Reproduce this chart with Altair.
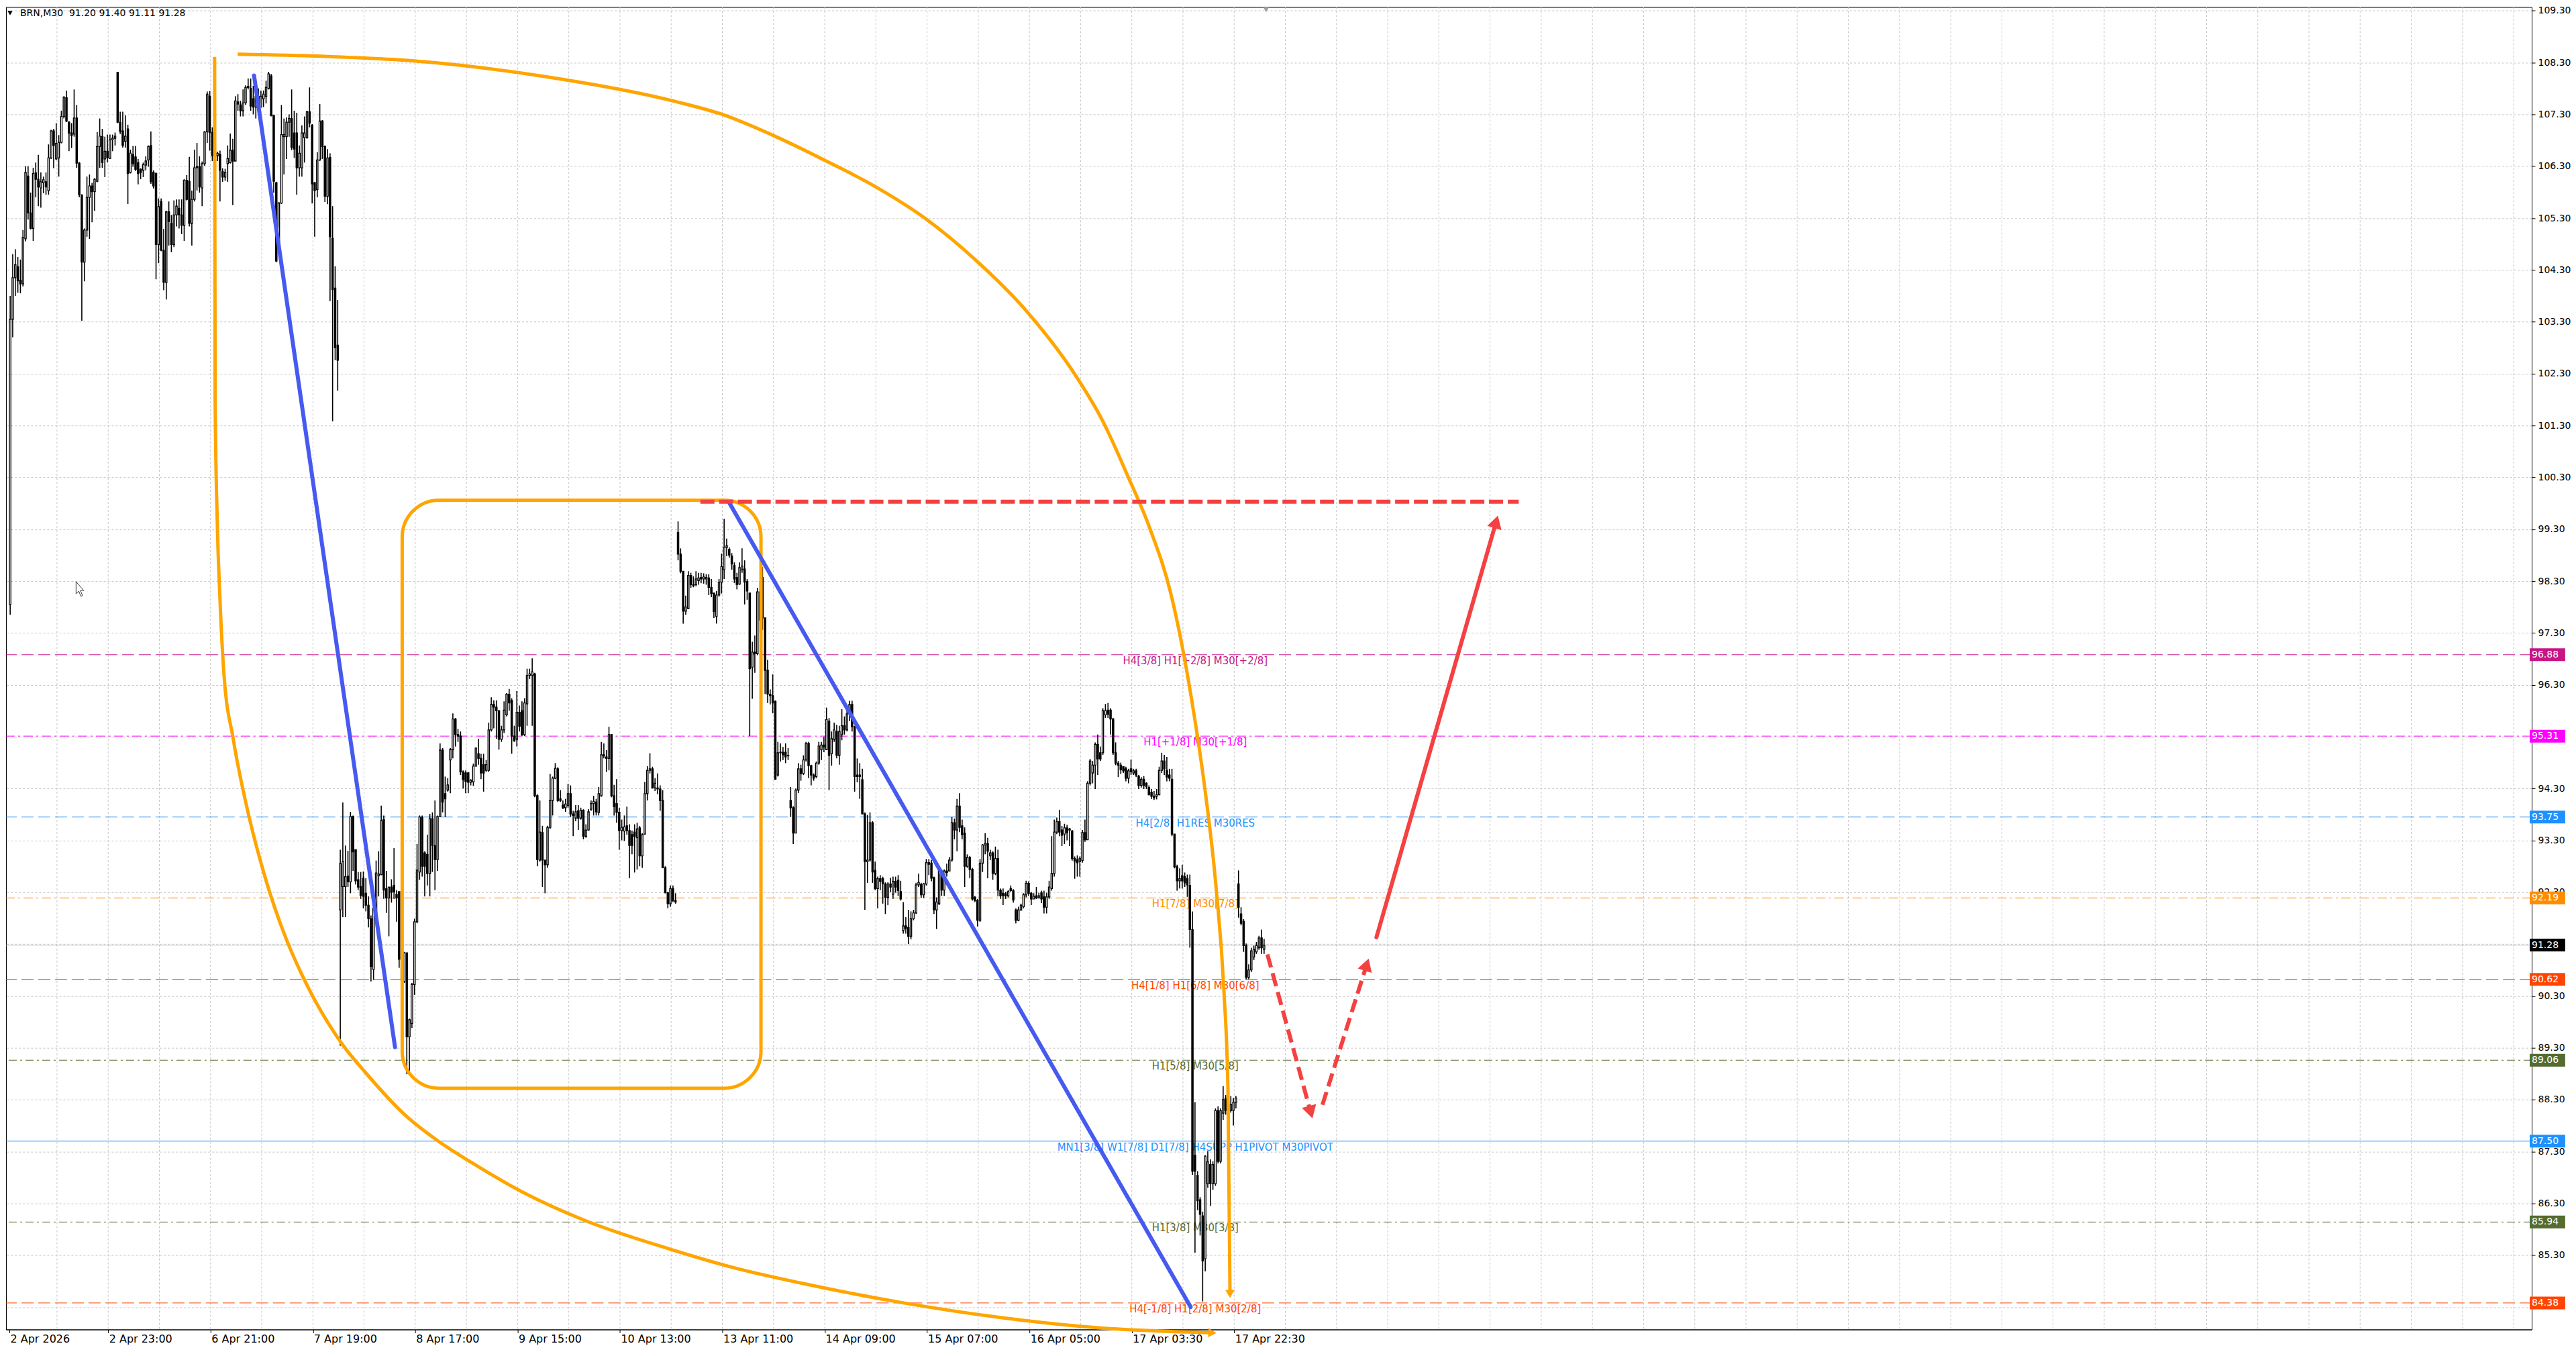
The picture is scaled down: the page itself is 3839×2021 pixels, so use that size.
import math

import altair as alt
import pandas as pd

# -----------------------------------------------------------------------------
# VALUES
# -----------------------------------------------------------------------------

TITLE = "BRN,M30\u00a0 91.20 91.40 91.11 91.28"

X_LABELS = ["2 Apr 2026", "2 Apr 23:00", "6 Apr 21:00", "7 Apr 19:00",
            "8 Apr 17:00", "9 Apr 15:00", "10 Apr 13:00", "13 Apr 11:00",
            "14 Apr 09:00", "15 Apr 07:00", "16 Apr 05:00", "17 Apr 03:30",
            "17 Apr 22:30"]

Y_TICKS = [84.3, 85.3, 86.3, 87.3, 88.3, 89.3, 90.3, 91.3, 92.3, 93.3, 94.3,
           95.3, 96.3, 97.3, 98.3, 99.3, 100.3, 101.3, 102.3, 103.3, 104.3,
           105.3, 106.3, 107.3, 108.3, 109.3]
# price labels that sit fully under a coloured price tag in the screenshot
Y_TICKS_UNDER_TAGS = [84.3, 91.3, 95.3]

# M30 candles (open, high, low, close), in five runs split at the price gaps
SEG_A = [
    (97.85, 103.80, 97.65, 103.35), (103.35, 104.60, 103.00, 104.15),
    (104.15, 104.70, 103.80, 104.40), (104.36, 104.55, 103.86, 104.09),
    (104.10, 104.50, 103.85, 104.03), (104.03, 105.07, 103.98, 104.93),
    (104.90, 106.30, 104.85, 106.18), (106.11, 106.30, 105.27, 105.40),
    (105.40, 105.79, 105.08, 105.10), (105.10, 106.27, 104.86, 106.16),
    (106.17, 106.37, 105.70, 106.05), (106.05, 106.52, 105.53, 105.90),
    (105.88, 106.18, 105.50, 106.00), (105.98, 106.10, 105.78, 106.04),
    (106.00, 106.18, 105.75, 105.90), (105.83, 106.72, 105.75, 106.46),
    (106.46, 107.00, 106.44, 106.98), (106.98, 107.02, 106.26, 106.70),
    (106.44, 107.13, 106.42, 106.74), (106.46, 106.90, 106.10, 106.76),
    (106.76, 107.37, 106.74, 107.26), (107.26, 107.65, 107.22, 107.63),
    (107.62, 107.76, 107.15, 107.17), (107.15, 107.17, 106.59, 106.94),
    (106.94, 107.13, 106.65, 106.89), (106.92, 107.78, 106.87, 107.23),
    (107.23, 107.48, 106.27, 106.36), (106.36, 106.38, 105.70, 105.75),
    (105.74, 105.76, 103.32, 104.45), (104.45, 105.10, 104.08, 105.07),
    (105.07, 106.10, 104.94, 105.70), (105.70, 106.14, 104.90, 105.92),
    (105.92, 105.98, 105.22, 105.81), (105.81, 106.07, 105.44, 106.05),
    (106.01, 106.96, 105.99, 106.68), (106.68, 107.22, 106.27, 106.88),
    (106.87, 107.02, 106.27, 106.37), (106.44, 106.87, 106.09, 106.59),
    (106.59, 106.91, 106.37, 106.46), (106.45, 106.91, 106.44, 106.81),
    (106.81, 106.91, 106.59, 106.84), (106.84, 106.95, 106.70, 106.88),
]

SEG_B = [
    (108.11, 108.12, 107.13, 107.15), (107.15, 107.35, 106.92, 106.97),
    (106.98, 107.35, 106.66, 106.70), (106.78, 107.28, 106.66, 106.88),
    (107.02, 107.10, 105.57, 106.16), (106.18, 106.62, 106.16, 106.55),
    (106.52, 106.69, 106.29, 106.35), (106.48, 106.69, 106.21, 106.24),
    (106.37, 106.44, 105.95, 106.16), (106.24, 106.26, 106.05, 106.18),
    (106.22, 106.37, 106.09, 106.33), (106.32, 106.49, 106.22, 106.40),
    (106.42, 106.70, 106.29, 106.68), (106.70, 106.97, 105.96, 106.00),
    (106.18, 106.22, 105.87, 105.92), (106.16, 106.18, 104.12, 104.79),
    (104.79, 105.68, 104.43, 105.52), (105.62, 105.68, 104.66, 104.68),
    (104.68, 105.09, 103.91, 104.06), (104.06, 105.44, 103.73, 105.42),
    (105.42, 105.62, 104.77, 105.23), (105.20, 105.36, 104.64, 104.79),
    (104.79, 105.64, 104.74, 105.36), (105.36, 105.66, 105.14, 105.53),
    (105.49, 105.66, 105.10, 105.36), (105.36, 105.66, 104.99, 105.16),
    (105.16, 106.05, 104.86, 106.03), (106.03, 106.13, 105.64, 105.66),
    (106.01, 106.48, 105.14, 105.20), (105.20, 105.83, 104.77, 105.66),
    (105.66, 106.62, 105.62, 106.27), (106.27, 106.75, 105.83, 106.29),
    (106.29, 106.49, 105.79, 105.90), (105.88, 106.39, 105.53, 106.35),
    (106.35, 106.98, 106.31, 106.96), (106.96, 107.74, 106.75, 107.69),
    (107.65, 107.75, 106.60, 106.95), (106.95, 107.05, 106.40, 106.50),
    (106.89, 106.89, 106.20, 106.22), (106.50, 106.58, 106.40, 106.55),
    (106.53, 106.60, 105.62, 106.22), (106.20, 106.26, 106.00, 106.09),
    (106.09, 106.25, 106.02, 106.18), (106.35, 106.70, 106.00, 106.45),
    (106.37, 106.93, 106.35, 106.61), (106.61, 106.83, 105.55, 106.40),
    (106.40, 107.65, 106.40, 107.56), (107.54, 107.69, 107.37, 107.50),
    (107.48, 107.56, 107.26, 107.37), (107.37, 107.78, 107.26, 107.52),
    (107.52, 107.86, 107.48, 107.82), (107.82, 107.99, 107.78, 107.84),
    (107.80, 107.99, 107.37, 107.46), (107.60, 107.85, 107.30, 107.44),
    (107.44, 107.93, 107.22, 107.65), (107.65, 107.80, 107.40, 107.50),
    (107.44, 107.76, 107.44, 107.65), (107.60, 107.76, 107.44, 107.69),
    (107.64, 107.95, 107.51, 107.82), (107.80, 108.12, 107.78, 108.08),
    (108.04, 108.08, 107.26, 107.28), (107.28, 107.28, 105.79, 106.01),
    (105.98, 106.00, 104.45, 104.47), (104.77, 105.61, 104.75, 105.59),
    (105.59, 107.48, 105.57, 106.91), (106.87, 107.22, 106.14, 106.91),
    (106.87, 107.24, 106.44, 107.15), (107.15, 107.30, 106.87, 107.22),
    (107.22, 107.78, 106.61, 106.66), (106.94, 107.37, 106.46, 106.63),
    (106.94, 107.33, 105.75, 106.27), (106.27, 106.70, 106.10, 106.55),
    (106.27, 107.09, 106.10, 106.94), (106.85, 107.26, 106.37, 106.94),
    (106.85, 107.37, 106.83, 107.35), (107.35, 107.82, 107.05, 107.13),
    (107.09, 107.11, 105.58, 105.96), (105.98, 106.00, 104.94, 105.83),
    (105.85, 106.57, 105.70, 106.42), (106.42, 107.50, 106.40, 107.17),
    (107.17, 107.19, 106.44, 106.68), (106.68, 106.70, 105.61, 105.72),
    (105.72, 106.63, 105.57, 106.46), (106.47, 106.55, 103.70, 104.94),
    (104.91, 105.53, 101.38, 103.92), (103.95, 104.37, 102.56, 102.80),
    (102.85, 103.72, 101.97, 102.56),
]

SEG_C = [
    (91.96, 93.12, 89.34, 92.85), (92.41, 94.03, 91.82, 92.89),
    (92.41, 93.20, 91.82, 92.60), (92.61, 93.10, 92.40, 92.50),
    (92.50, 93.85, 92.28, 93.76), (93.76, 93.78, 92.71, 93.08),
    (93.12, 93.12, 92.45, 92.52), (92.54, 92.69, 92.34, 92.40),
    (92.41, 92.69, 92.17, 92.24), (92.57, 92.70, 91.99, 92.22),
    (92.28, 92.57, 91.93, 92.05), (92.05, 92.22, 91.62, 91.79),
    (91.79, 91.85, 90.58, 90.87), (90.81, 92.05, 90.61, 91.99),
    (91.83, 92.91, 91.79, 92.67), (92.62, 93.09, 92.22, 92.65),
    (92.64, 93.97, 92.63, 93.68), (93.70, 93.78, 92.17, 92.34),
    (92.37, 92.71, 91.90, 92.19), (92.19, 92.40, 91.45, 92.40),
    (92.40, 92.55, 92.10, 92.30), (92.43, 93.15, 92.17, 92.31),
    (92.26, 92.34, 91.73, 92.19), (92.31, 92.31, 90.84, 91.01),
    (90.60, 91.20, 90.40, 91.05), (90.58, 91.15, 90.55, 91.13),
    (91.13, 91.13, 88.79, 89.51), (89.51, 89.86, 88.82, 89.84),
    (89.77, 90.55, 89.68, 90.52), (90.52, 91.79, 90.32, 91.73),
    (91.73, 93.23, 91.70, 92.73), (92.69, 93.78, 92.54, 93.75),
    (93.75, 93.78, 92.60, 92.80), (93.06, 93.09, 92.22, 92.80),
    (93.03, 93.41, 92.43, 92.66), (92.66, 93.81, 92.22, 93.72),
    (93.72, 93.84, 92.69, 93.20), (93.20, 94.07, 92.34, 92.93),
    (92.93, 93.78, 92.71, 93.76), (93.76, 95.17, 93.75, 95.04),
    (95.04, 95.08, 93.84, 94.04), (94.20, 94.53, 93.75, 94.10),
    (94.27, 94.50, 94.24, 94.37), (94.85, 95.08, 94.21, 95.05),
    (95.05, 95.75, 94.88, 95.64), (95.64, 95.66, 95.11, 95.34),
    (95.34, 95.45, 95.20, 95.31), (95.31, 95.40, 94.56, 94.62),
    (94.62, 94.65, 94.30, 94.47), (94.60, 94.65, 94.21, 94.43),
    (94.60, 94.62, 94.21, 94.42), (94.42, 94.48, 94.36, 94.46),
    (94.43, 94.78, 94.35, 94.73), (94.73, 95.08, 94.73, 95.08),
    (94.97, 95.26, 94.76, 94.88), (94.88, 94.97, 94.48, 94.60),
    (94.76, 94.97, 94.24, 94.60), (94.65, 94.85, 94.62, 94.76),
    (94.65, 95.57, 94.62, 95.43), (95.43, 96.06, 95.40, 95.92),
    (95.92, 96.00, 95.46, 95.87), (95.87, 96.00, 95.26, 95.80),
    (95.80, 95.80, 95.05, 95.25), (95.25, 95.51, 95.20, 95.43),
    (95.43, 95.98, 95.37, 95.81), (95.72, 96.14, 95.69, 96.12),
    (96.12, 96.22, 95.80, 95.95), (96.00, 96.04, 94.97, 95.31),
    (95.31, 95.51, 95.20, 95.22), (95.25, 96.18, 95.11, 95.77),
    (95.77, 95.90, 95.40, 95.50), (95.80, 95.98, 95.31, 95.34),
    (95.34, 96.04, 95.31, 95.95), (95.93, 96.61, 95.51, 96.48),
    (96.48, 96.61, 96.41, 96.51), (96.48, 96.81, 95.51, 96.55),
    (96.51, 96.53, 94.13, 94.16), (94.16, 94.19, 92.80, 92.93),
    (92.92, 94.07, 92.89, 93.46), (93.45, 93.58, 92.40, 92.92),
    (92.92, 92.92, 92.28, 92.83), (92.83, 93.58, 92.77, 93.55),
    (93.55, 94.58, 93.52, 94.07), (94.07, 94.53, 93.78, 94.50),
    (94.50, 94.79, 94.48, 94.69), (94.68, 94.71, 94.04, 94.07),
    (94.10, 94.27, 94.04, 94.07), (93.98, 94.07, 93.90, 93.93),
    (93.93, 94.10, 93.85, 94.00), (93.97, 94.39, 93.93, 94.20),
    (94.20, 94.36, 93.75, 93.81), (93.81, 93.87, 93.38, 93.78),
    (93.73, 93.98, 93.67, 93.85), (93.87, 93.98, 93.50, 93.73),
    (93.73, 93.93, 93.70, 93.88), (93.88, 93.90, 93.32, 93.38),
    (93.38, 93.61, 93.35, 93.50), (93.50, 93.90, 93.49, 93.85),
    (93.90, 94.07, 93.87, 94.01), (94.01, 94.16, 93.78, 94.05),
    (94.04, 94.10, 93.78, 93.85), (93.84, 94.33, 93.78, 94.20),
    (94.16, 95.20, 94.14, 94.95), (94.93, 95.17, 94.88, 94.95),
    (94.91, 95.04, 94.62, 94.88), (94.88, 95.49, 94.65, 95.34),
    (95.34, 95.35, 94.13, 94.16), (94.16, 94.37, 93.78, 93.95),
    (94.01, 94.48, 93.64, 93.84), (93.84, 93.93, 93.12, 93.49),
    (93.49, 93.70, 93.30, 93.55), (93.48, 93.78, 93.29, 93.56),
    (93.58, 93.95, 93.41, 93.49), (93.49, 93.61, 92.57, 93.20),
    (93.41, 93.49, 93.03, 93.20), (93.46, 93.61, 92.68, 93.38),
    (93.35, 93.64, 92.74, 93.52), (93.54, 93.58, 92.80, 93.00),
    (93.00, 93.44, 92.77, 93.41), (93.42, 94.43, 93.41, 94.20),
    (94.20, 94.73, 94.07, 94.65), (94.65, 94.98, 94.59, 94.68),
    (94.68, 94.72, 94.30, 94.31), (94.31, 94.50, 94.25, 94.40),
    (94.31, 94.59, 94.19, 94.29), (94.29, 94.36, 93.87, 94.07),
    (94.07, 94.27, 92.77, 92.77), (92.77, 92.80, 92.28, 92.29),
    (92.29, 92.31, 91.99, 92.08), (92.08, 92.43, 92.02, 92.37),
    (92.37, 92.43, 92.11, 92.14), (92.14, 92.28, 92.08, 92.11),
]

SEG_D = [
    (99.24, 99.45, 98.70, 98.82), (98.82, 98.93, 98.45, 98.49),
    (98.49, 98.49, 97.48, 97.72), (97.72, 98.02, 97.65, 97.80),
    (97.77, 98.49, 97.76, 98.41), (98.41, 98.46, 98.17, 98.23),
    (98.23, 98.39, 98.18, 98.21), (98.23, 98.49, 98.20, 98.34),
    (98.31, 98.46, 98.23, 98.36), (98.37, 98.46, 98.26, 98.34),
    (98.34, 98.45, 98.25, 98.38), (98.34, 98.43, 98.23, 98.37),
    (98.36, 98.43, 98.03, 98.18), (98.18, 98.34, 97.99, 98.06),
    (98.07, 98.07, 97.59, 97.71), (97.62, 98.11, 97.48, 98.03),
    (98.03, 98.34, 98.00, 98.28), (98.28, 98.83, 98.06, 98.58),
    (98.52, 99.50, 98.34, 98.95), (98.95, 99.12, 98.78, 98.98),
    (98.91, 98.95, 98.75, 98.80), (98.78, 98.84, 98.52, 98.63),
    (98.60, 98.66, 98.26, 98.34), (98.37, 98.46, 98.14, 98.23),
    (98.24, 98.66, 98.23, 98.56), (98.52, 98.93, 98.46, 98.59),
    (98.53, 98.70, 97.85, 98.28), (98.29, 98.34, 97.94, 98.11),
    (98.07, 98.07, 95.31, 96.61), (96.64, 97.13, 96.03, 96.93),
    (96.93, 97.25, 96.53, 96.90), (96.90, 98.17, 96.87, 98.09),
    (98.09, 98.30, 97.30, 97.55), (98.37, 98.57, 97.36, 97.59),
    (97.59, 97.59, 96.12, 96.58), (96.58, 96.78, 95.95, 96.12),
    (96.12, 96.21, 95.92, 96.09), (96.09, 96.50, 95.75, 95.95),
    (95.98, 96.00, 94.47, 94.48), (94.56, 95.20, 94.53, 94.99),
    (94.99, 95.17, 94.82, 95.00), (95.00, 95.10, 94.85, 94.95),
    (95.00, 95.17, 94.79, 94.91), (94.94, 95.08, 94.85, 94.93),
    (94.07, 94.33, 93.75, 93.93), (93.93, 93.96, 93.23, 93.44),
    (93.44, 94.30, 93.44, 94.27), (94.27, 94.79, 94.21, 94.68),
    (94.68, 94.76, 94.45, 94.59), (94.59, 94.94, 94.56, 94.85),
    (94.85, 95.20, 94.82, 95.17), (95.17, 95.20, 94.50, 94.74),
    (94.74, 94.76, 94.36, 94.56), (94.56, 94.59, 94.45, 94.50),
    (94.53, 94.82, 94.50, 94.79), (94.79, 95.20, 94.76, 95.12),
    (95.05, 95.20, 94.85, 95.14), (95.14, 95.30, 95.00, 95.10),
    (95.05, 95.86, 95.04, 95.63), (95.60, 95.66, 94.27, 94.94),
    (94.97, 95.40, 94.74, 95.26), (95.25, 95.57, 95.20, 95.43),
    (95.40, 95.53, 94.88, 94.94), (94.94, 95.51, 94.76, 95.40),
    (95.34, 95.83, 95.23, 95.51), (95.51, 95.69, 95.34, 95.43),
    (95.43, 95.86, 95.40, 95.74), (95.74, 95.99, 95.60, 95.92),
    (95.92, 95.99, 95.40, 95.49), (95.49, 95.51, 94.24, 94.53),
    (94.56, 94.88, 94.42, 94.53), (94.56, 94.79, 94.10, 94.53),
    (94.47, 94.68, 93.81, 93.81), (93.81, 93.84, 91.96, 92.89),
    (92.89, 93.79, 92.48, 92.92), (92.92, 93.84, 92.89, 93.64),
    (93.64, 93.67, 92.48, 92.69), (92.72, 92.89, 92.34, 92.37),
    (92.37, 92.60, 91.99, 92.56), (92.56, 92.63, 92.34, 92.51),
    (92.56, 92.60, 92.08, 92.46), (92.46, 92.49, 91.88, 92.20),
    (92.20, 92.49, 92.05, 92.46), (92.46, 92.58, 92.30, 92.40),
    (92.26, 92.60, 92.17, 92.51), (92.51, 92.60, 92.29, 92.40),
    (92.53, 92.63, 92.23, 92.33), (92.31, 92.52, 92.14, 92.17),
    (91.56, 92.11, 91.50, 91.65), (91.65, 91.82, 91.50, 91.60),
    (91.62, 91.96, 91.30, 91.45), (91.45, 91.93, 91.39, 91.79),
    (91.79, 91.96, 91.76, 91.90), (91.90, 92.48, 91.88, 92.44),
    (92.44, 92.66, 92.40, 92.49), (92.45, 92.48, 92.19, 92.25),
    (92.25, 92.48, 92.19, 92.46), (92.46, 92.94, 92.43, 92.87),
    (92.87, 92.94, 92.63, 92.84), (92.86, 92.92, 92.51, 92.57),
    (92.58, 92.60, 91.88, 91.96), (91.96, 92.20, 91.59, 92.11),
    (92.08, 92.77, 92.05, 92.71), (92.71, 92.74, 92.23, 92.34),
    (92.34, 92.74, 92.23, 92.71), (92.71, 92.85, 92.60, 92.68),
    (92.71, 92.98, 92.71, 92.92), (92.92, 93.75, 92.89, 93.64),
    (93.64, 93.72, 93.32, 93.50), (93.50, 94.10, 93.09, 93.96),
    (93.96, 94.21, 93.46, 93.55), (93.58, 93.70, 93.32, 93.41),
    (93.44, 93.55, 92.40, 92.80), (92.80, 93.03, 92.77, 92.97),
    (92.97, 93.00, 92.57, 92.74), (92.74, 92.77, 92.14, 92.17),
    (92.20, 92.23, 92.11, 92.14), (92.14, 92.17, 91.64, 91.76),
    (91.76, 92.94, 91.73, 92.86), (92.86, 93.23, 92.69, 93.21),
    (93.21, 93.44, 93.03, 93.24), (93.24, 93.35, 92.57, 93.09),
    (93.00, 93.12, 92.92, 93.06), (93.06, 93.09, 92.54, 92.66),
    (92.66, 93.18, 92.63, 92.95), (92.95, 93.12, 92.22, 92.34),
    (92.34, 92.37, 92.17, 92.23), (92.28, 92.37, 92.05, 92.23),
    (92.27, 92.31, 92.17, 92.23), (92.23, 92.34, 92.20, 92.31),
    (92.37, 92.43, 92.31, 92.33), (92.33, 92.36, 92.10, 92.15),
    (91.96, 91.99, 91.70, 91.76), (91.76, 92.02, 91.74, 91.96),
    (91.96, 92.08, 91.94, 92.05), (92.02, 92.28, 91.99, 92.25),
    (92.25, 92.52, 92.20, 92.47), (92.47, 92.51, 92.23, 92.28),
    (92.28, 92.31, 92.05, 92.17), (92.17, 92.28, 92.17, 92.22),
    (92.23, 92.40, 92.17, 92.19), (92.19, 92.29, 92.18, 92.23),
]

SEG_E = [
    (92.29, 92.33, 92.09, 92.17), (92.21, 92.33, 91.89, 92.01),
    (92.01, 92.29, 91.89, 92.21), (92.21, 92.52, 92.17, 92.40),
    (92.37, 93.38, 92.33, 92.66), (92.66, 93.70, 92.60, 93.46),
    (93.46, 93.74, 93.42, 93.66), (93.66, 93.89, 93.38, 93.46),
    (93.50, 93.58, 93.19, 93.40), (93.42, 93.62, 93.23, 93.54),
    (93.54, 93.60, 93.30, 93.45), (93.50, 93.54, 93.19, 93.52),
    (93.48, 93.50, 92.91, 92.95), (92.95, 92.99, 92.56, 92.90),
    (92.93, 93.01, 92.60, 92.87), (92.89, 92.99, 92.60, 92.95),
    (92.91, 93.50, 92.87, 93.45), (93.45, 93.70, 93.27, 93.31),
    (93.31, 94.44, 93.31, 94.40), (94.40, 94.87, 94.36, 94.83),
    (94.60, 94.83, 94.40, 94.75), (94.75, 95.19, 94.29, 95.15),
    (95.15, 95.34, 94.56, 94.87), (94.99, 95.11, 94.83, 94.87),
    (94.99, 95.85, 94.95, 95.80), (95.72, 95.93, 95.66, 95.80),
    (95.81, 95.95, 95.66, 95.73), (95.81, 95.85, 95.34, 95.64),
    (95.64, 95.66, 94.95, 94.99), (94.99, 95.19, 94.75, 94.79),
    (94.79, 94.83, 94.52, 94.75), (94.75, 94.80, 94.58, 94.66),
    (94.72, 94.73, 94.60, 94.64), (94.68, 94.72, 94.44, 94.50),
    (94.50, 94.68, 94.40, 94.64), (94.68, 94.86, 94.56, 94.62),
    (94.60, 94.68, 94.56, 94.64), (94.64, 94.68, 94.52, 94.56),
    (94.54, 94.56, 94.29, 94.36), (94.36, 94.52, 94.32, 94.48),
    (94.48, 94.54, 94.29, 94.36), (94.40, 94.42, 94.29, 94.34),
    (94.32, 94.36, 94.17, 94.18), (94.23, 94.29, 94.10, 94.15),
    (94.15, 94.25, 94.08, 94.12), (94.15, 94.29, 94.09, 94.18),
    (94.18, 94.72, 94.17, 94.65), (94.65, 94.99, 94.60, 94.83),
    (94.83, 94.95, 94.56, 94.68), (94.65, 94.91, 94.44, 94.52),
    (94.56, 94.68, 94.44, 94.50), (94.48, 94.68, 93.38, 93.42),
    (93.42, 93.42, 92.76, 92.79), (92.79, 92.83, 92.33, 92.52),
    (92.52, 92.76, 92.37, 92.56), (92.62, 92.83, 92.37, 92.52),
    (92.60, 92.68, 92.40, 92.48), (92.56, 92.64, 92.21, 92.44),
    (92.43, 92.64, 91.23, 91.58), (91.58, 91.93, 86.85, 86.92),
    (87.23, 88.25, 85.35, 86.92), (86.84, 86.92, 86.17, 86.35),
    (86.37, 86.42, 85.68, 86.09), (86.06, 86.14, 84.41, 85.19),
    (85.23, 87.23, 84.99, 87.21), (86.68, 87.31, 86.60, 87.10),
    (87.05, 87.15, 86.25, 86.68), (86.68, 87.11, 86.56, 87.05),
    (86.68, 88.13, 86.64, 88.09), (88.09, 88.17, 87.07, 87.11),
    (87.11, 88.13, 87.07, 88.09), (88.04, 88.56, 87.91, 88.30),
    (88.33, 88.39, 88.01, 88.09), (88.09, 88.30, 88.00, 88.20),
    (88.09, 88.37, 88.05, 88.21), (88.09, 88.33, 87.80, 88.25),
    (88.25, 88.37, 88.13, 88.33), (92.46, 92.72, 91.81, 92.01),
    (91.88, 92.01, 91.66, 91.70), (91.74, 91.78, 91.15, 91.27),
    (91.27, 91.31, 90.62, 90.66), (90.66, 90.91, 90.62, 90.80),
    (90.80, 91.23, 90.76, 91.17), (91.05, 91.27, 90.99, 91.20),
    (91.15, 91.34, 91.11, 91.27), (91.23, 91.46, 91.19, 91.42),
    (91.42, 91.58, 91.11, 91.23), (91.20, 91.40, 91.11, 91.28),
]

# Murrey-math levels drawn across the chart
LEVEL_PRICES = [96.88, 95.31, 93.75, 92.19, 90.62, 89.06, 87.50, 85.94, 84.38]
LEVEL_TEXT = ["H4[3/8] H1[+2/8] M30[+2/8]", "H1[+1/8] M30[+1/8]",
              "H4[2/8] H1RES M30RES", "H1[7/8] M30[7/8]",
              "H4[1/8] H1[6/8] M30[6/8]", "H1[5/8] M30[5/8]",
              "MN1[3/8] W1[7/8] D1[7/8] H4SUPP H1PIVOT M30PIVOT",
              "H1[3/8] M30[3/8]", "H4[-1/8] H1[2/8] M30[2/8]"]
CURRENT_PRICE = 91.28

TAG_PRICES = [96.88, 95.31, 93.75, 92.19, 91.28, 90.62, 89.06, 87.50, 85.94, 84.38]

# hand drawings, as (bar, price)
UPPER_ARC = [(88.9, 108.46), (121.4, 108.42), (155.3, 108.34), (207.5, 108.04),
             (259.8, 107.55), (278.2, 107.30), (297.9, 106.90), (317.7, 106.43),
             (337.6, 105.92), (357.4, 105.30), (377.3, 104.49), (397.1, 103.51),
             (416.8, 102.23), (426.8, 101.40), (436.7, 100.33), (445.1, 99.35),
             (453.7, 98.03), (462.1, 95.89), (466.8, 94.32), (471.3, 92.36),
             (474.3, 90.40), (475.9, 88.45), (476.7, 84.45)]
LOWER_ARC = [(79.9, 108.41), (80.1, 101.81), (80.9, 99.50), (82.0, 97.94),
             (83.5, 96.54), (87.2, 95.25), (92.4, 93.96), (99.2, 92.66),
             (108.1, 91.37), (113.9, 90.72), (129.9, 89.36), (138.9, 88.82),
             (154.4, 88.00), (167.3, 87.50), (180.2, 87.09), (200.9, 86.50),
             (224.1, 85.98), (257.7, 85.42), (283.5, 85.05), (309.3, 84.76),
             (348.0, 84.39), (386.7, 84.10), (425.4, 83.90), (471.9, 83.80)]
BOX_BARS = [153.2, 293.4]
BOX_PRICES = [88.52, 99.86]
BLUE_1 = [(95.3, 108.05), (150.4, 89.31)]
BLUE_2 = [(280.9, 99.82), (461.3, 84.30)]
RED_LEVEL = [(269.7, 99.83), (589.5, 99.83)]
RED_DOWN = [(491.3, 91.10), (509.1, 87.90)]
RED_UP = [(512.8, 88.20), (531.1, 91.06)]
RED_MAIN = [(533.9, 91.43), (581.6, 99.60)]
SHIFT_BAR = 490.8

# -----------------------------------------------------------------------------
# LAYOUT / STYLE
# -----------------------------------------------------------------------------

W, H = 3766, 1972
X_DOMAIN = [-0.3, 984.05]
Y_DOMAIN = [83.868, 109.369]
PX_BAR = W / (X_DOMAIN[1] - X_DOMAIN[0])
PX_PRICE = H / (Y_DOMAIN[1] - Y_DOMAIN[0])

BARS_PER_LABEL = 40
BARS_PER_GRID = 20
BAR_OFFSET = 1.7          # time ticks sit a little left of the candle centres

FONT = "DejaVu Sans"
ORANGE = "#ffa500"
BLUE = "#465af0"
RED = "#f44141"
GRID = "#c4c4c4"

LEVEL_COLORS = ["#c71585", "#ff00ff", "#1e90ff", "#ff8c00", "#ff4500",
                "#556b2f", "#1e90ff", "#556b2f", "#ff4500"]
LEVEL_DASH = [[18, 7], [14, 5, 3, 5], [18, 7], [14, 5, 3, 5], [18, 7],
              [12, 5, 3, 5], None, [12, 5, 3, 5], [18, 7]]
TAG_COLORS = ["#c71585", "#ff00ff", "#1e90ff", "#ff8c00", "#000000",
              "#ff4500", "#556b2f", "#1e90ff", "#556b2f", "#ff4500"]

LABEL_BAR = 463.1
TAG_BAR0 = X_DOMAIN[1] + 2 / PX_BAR
TAG_BAR1 = X_DOMAIN[1] + 55 / PX_BAR
TAG_TEXT_BAR = X_DOMAIN[1] + 5 / PX_BAR
TAG_HALF = 9.5 / PX_PRICE

# mouse pointer left in the screenshot (pixel position inside the plot)
CURSOR_PATH = "M-0.5,-1 L-0.5,0.62 L-0.14,0.27 L0.14,0.95 L0.36,0.85 L0.08,0.18 L0.52,0.18 Z"
CURSOR_XY = (110, 868)

xs = alt.Scale(domain=X_DOMAIN, nice=False, zero=False)
ys = alt.Scale(domain=Y_DOMAIN, nice=False, zero=False)

# layers other than the axis carrier leave the axis unset (an explicit null
# there switches the shared axis off)
XN = alt.X("i:Q", scale=xs, title=None)
YN = alt.Y("p:Q", scale=ys, title=None)


def xdatum(v):
    return alt.XDatum(datum=v, scale=xs)


def arrow_head(p0, p1, r):
    """centre and rotation of a triangle whose tip sits on p1, pointing away from p0"""
    dx = (p1[0] - p0[0]) * PX_BAR
    dy = -(p1[1] - p0[1]) * PX_PRICE
    length = math.hypot(dx, dy)
    ux, uy = dx / length, dy / length
    back = 1.155 * r
    cx = p1[0] - ux * back / PX_BAR
    cy = p1[1] + uy * back / PX_PRICE
    ang = math.degrees(math.atan2(ux, -uy)) % 360
    return cx, cy, ang


def pts(points, seg=0):
    return pd.DataFrame({"i": [p[0] for p in points], "p": [p[1] for p in points],
                         "seq": list(range(len(points))), "seg": seg})


# -----------------------------------------------------------------------------
# AXES (carried by an invisible first layer) AND GRID
# -----------------------------------------------------------------------------

label_pos = [X_DOMAIN[0]] + [BARS_PER_LABEL * k - BAR_OFFSET for k in range(1, len(X_LABELS))]
x_label_expr = ""
for k in range(len(X_LABELS) - 1, 0, -1):
    x_label_expr += "datum.value > %.1f ? '%s' : " % (label_pos[k] - 1, X_LABELS[k])
x_label_expr += "'%s'" % X_LABELS[0]

y_label_expr = " || ".join("abs(datum.value - %.2f) < 0.01" % v for v in Y_TICKS_UNDER_TAGS)
y_label_expr += " ? '' : format(datum.value, '.2f')"

x_axis = alt.Axis(
    values=label_pos, labelExpr=x_label_expr, grid=False,
    tickColor="black", tickSize=5, tickWidth=1,
    labelAlign="left", labelBaseline="top", labelPadding=1, labelOffset=1,
    labelFont=FONT, labelFontSize=16, labelColor="black",
    labelOverlap=False, labelFlush=False,
    domainColor="black", domainWidth=1,
)
y_axis = alt.Axis(
    orient="right", values=Y_TICKS, labelExpr=y_label_expr,
    grid=True, gridColor=GRID, gridDash=[3, 3], gridWidth=1,
    tickColor="black", tickSize=5, tickWidth=1,
    labelAlign="left", labelBaseline="middle", labelPadding=4,
    labelFont=FONT, labelFontSize=14, labelColor="black", labelOverlap=False,
    domainColor="black", domainWidth=1,
)

candles = SEG_A + SEG_B + SEG_C + SEG_D + SEG_E
df = pd.DataFrame([{"i": k, "o": o, "c": c, "h": max(h, o, c), "l": min(l, o, c)}
                   for k, (o, h, l, c) in enumerate(candles)])

axes_layer = alt.Chart(df).mark_point(opacity=0, size=1).encode(
    x=alt.X("i:Q", scale=xs, axis=x_axis, title=None),
    y=alt.Y("c:Q", scale=ys, axis=y_axis, title=None),
)

grid_x = pd.DataFrame({"i": [BARS_PER_GRID * k - BAR_OFFSET for k in range(1, 50)]})
vgrid = alt.Chart(grid_x).mark_rule(color=GRID, strokeWidth=1, strokeDash=[3, 3]).encode(x=XN)

# -----------------------------------------------------------------------------
# CANDLES
# -----------------------------------------------------------------------------

wicks = alt.Chart(df).mark_rule(color="black", strokeWidth=1.6).encode(
    x=XN, y=alt.Y("l:Q", scale=ys, title=None), y2="h:Q",
)
bodies = alt.Chart(df).mark_bar(size=2.2, stroke="black", strokeWidth=1.3).encode(
    x=XN,
    y=alt.Y("o:Q", scale=ys, title=None),
    y2="c:Q",
    fill=alt.condition("datum.c >= datum.o", alt.value("white"), alt.value("black")),
)

# -----------------------------------------------------------------------------
# LEVELS
# -----------------------------------------------------------------------------

level_layers = []
for price, col, dash in zip(LEVEL_PRICES, LEVEL_COLORS, LEVEL_DASH):
    kw = {"color": col, "strokeWidth": 1}
    if dash:
        kw["strokeDash"] = dash
    level_layers.append(alt.Chart(pd.DataFrame({"p": [price]})).mark_rule(**kw).encode(y=YN))
level_layers.append(
    alt.Chart(pd.DataFrame({"p": [CURRENT_PRICE]})).mark_rule(color="#c0c0c0", strokeWidth=1).encode(y=YN))

level_text = alt.Chart(pd.DataFrame({"p": LEVEL_PRICES, "t": LEVEL_TEXT, "col": LEVEL_COLORS})).mark_text(
    font=FONT, fontSize=15, align="center", baseline="top", dy=2
).encode(
    x=xdatum(LABEL_BAR), y=YN, text="t:N",
    color=alt.Color("col:N", scale=None),
)

# -----------------------------------------------------------------------------
# DRAWINGS
# -----------------------------------------------------------------------------

up_c = arrow_head(UPPER_ARC[-2], UPPER_ARC[-1], 7)
lo_c = arrow_head(LOWER_ARC[-2], LOWER_ARC[-1], 7)
arc_df = pd.concat([
    pts(UPPER_ARC[:-1] + [(up_c[0], up_c[1])], 0),
    pts(LOWER_ARC[:-1] + [(lo_c[0], lo_c[1])], 1),
])
arcs = alt.Chart(arc_df).mark_line(color=ORANGE, strokeWidth=5, interpolate="monotone").encode(
    x=XN, y=YN, detail="seg:N", order="seq:Q",
)
box = alt.Chart(pd.DataFrame({"x0": [BOX_BARS[0]], "x1": [BOX_BARS[1]],
                              "p0": [BOX_PRICES[0]], "p1": [BOX_PRICES[1]]})).mark_rect(
    cornerRadius=55, fillOpacity=0, stroke=ORANGE, strokeWidth=5
).encode(
    x=alt.X("x0:Q", scale=xs, title=None), x2="x1:Q",
    y=alt.Y("p0:Q", scale=ys, title=None), y2="p1:Q",
)

blue = alt.Chart(pd.concat([pts(BLUE_1, 0), pts(BLUE_2, 1)])).mark_line(
    color=BLUE, strokeWidth=6, strokeCap="round"
).encode(x=XN, y=YN, detail="seg:N", order="seq:Q")

red_level = alt.Chart(pts(RED_LEVEL)).mark_line(color=RED, strokeWidth=6, strokeDash=[21, 7]).encode(
    x=XN, y=YN, order="seq:Q",
)

h_down = arrow_head(RED_DOWN[0], RED_DOWN[1], 11)
h_up = arrow_head(RED_UP[0], RED_UP[1], 11)
h_main = arrow_head(RED_MAIN[0], RED_MAIN[1], 11)

red_dashed = alt.Chart(pd.concat([
    pts([RED_DOWN[0], (h_down[0], h_down[1])], 0),
    pts([RED_UP[0], (h_up[0], h_up[1])], 1),
])).mark_line(color=RED, strokeWidth=6, strokeDash=[20, 9]).encode(
    x=XN, y=YN, detail="seg:N", order="seq:Q",
)
red_solid = alt.Chart(pts([RED_MAIN[0], (h_main[0], h_main[1])])).mark_line(
    color=RED, strokeWidth=6, strokeCap="round"
).encode(x=XN, y=YN, order="seq:Q")


def heads(items, color, size):
    hd = pd.DataFrame({"i": [h[0] for h in items], "p": [h[1] for h in items],
                       "ang": [h[2] for h in items]})
    return alt.Chart(hd).mark_point(shape="triangle-up", filled=True, size=size,
                                    color=color, opacity=1, strokeWidth=0).encode(
        x=XN, y=YN, angle=alt.Angle("ang:Q", scale=None),
    )


red_heads = heads([h_down, h_up, h_main], RED, 484)
orange_heads = heads([up_c, lo_c], ORANGE, 196)

# -----------------------------------------------------------------------------
# PRICE TAGS, TITLE, POINTER
# -----------------------------------------------------------------------------

tag_df = pd.DataFrame({
    "p": TAG_PRICES,
    "lo": [p - TAG_HALF for p in TAG_PRICES],
    "hi": [p + TAG_HALF for p in TAG_PRICES],
    "t": ["%.2f" % p for p in TAG_PRICES],
    "col": TAG_COLORS,
})
tag_rects = alt.Chart(tag_df).mark_rect().encode(
    x=xdatum(TAG_BAR0), x2=alt.X2Datum(datum=TAG_BAR1),
    y=alt.Y("lo:Q", scale=ys, title=None), y2="hi:Q",
    fill=alt.Color("col:N", scale=None),
)
tag_text = alt.Chart(tag_df).mark_text(font=FONT, fontSize=14, color="white",
                                       align="left", baseline="middle").encode(
    x=xdatum(TAG_TEXT_BAR), y=YN, text="t:N",
)

title = alt.Chart(pd.DataFrame({"t": [TITLE]})).mark_text(
    font=FONT, fontSize=14, color="black", align="left", baseline="middle"
).encode(x=alt.value(21), y=alt.value(9), text="t:N")
title_mark = alt.Chart(pd.DataFrame({"t": [0]})).mark_point(
    shape="triangle-down", filled=True, size=55, color="black", opacity=1, strokeWidth=0
).encode(x=alt.value(6), y=alt.value(9))
shift_mark = alt.Chart(pd.DataFrame({"t": [0]})).mark_point(
    shape="triangle-down", filled=True, size=70, color="#a0a0a0", opacity=1, strokeWidth=0
).encode(x=xdatum(SHIFT_BAR), y=alt.value(4))
pointer = alt.Chart(pd.DataFrame({"t": [0]})).mark_point(
    shape=CURSOR_PATH, size=500, fill="white", stroke="#333333", strokeWidth=1,
    filled=False, fillOpacity=1, opacity=1
).encode(x=alt.value(CURSOR_XY[0]), y=alt.value(CURSOR_XY[1]))

chart = alt.layer(
    axes_layer, vgrid, *level_layers, level_text, wicks, bodies,
    box, arcs, orange_heads, blue,
    red_level, red_dashed, red_solid, red_heads,
    tag_rects, tag_text, title, title_mark, shift_mark, pointer,
).properties(
    width=W, height=H, padding=0, background="white",
).configure_view(stroke="black", strokeWidth=1)

chart.save("out.html", embed_options={"renderer": "svg", "actions": False})
